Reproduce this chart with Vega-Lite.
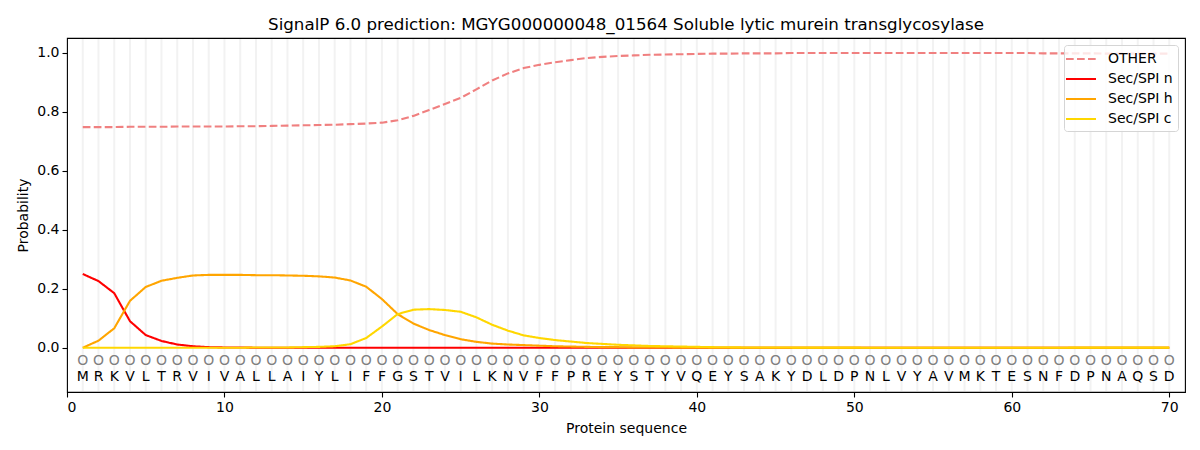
{
  "$schema": "https://vega.github.io/schema/vega-lite/v6.json",
  "width": 1118,
  "height": 354,
  "autosize": "none",
  "padding": {"left": 67, "top": 38, "right": 15, "bottom": 58},
  "background": "white",
  "title": {
    "text": "SignalP 6.0 prediction: MGYG000000048_01564 Soluble lytic murein transglycosylase",
    "font": "DejaVu Sans",
    "fontSize": 16.7,
    "fontWeight": "normal",
    "color": "black",
    "anchor": "middle",
    "offset": 4
  },
  "data": {
    "values": [
      {"pos": 1, "aa": "M", "OTHER": 0.748, "Sec/SPI n": 0.250, "Sec/SPI h": 0.000, "Sec/SPI c": 0.000},
      {"pos": 2, "aa": "R", "OTHER": 0.748, "Sec/SPI n": 0.226, "Sec/SPI h": 0.024, "Sec/SPI c": 0.000},
      {"pos": 3, "aa": "K", "OTHER": 0.748, "Sec/SPI n": 0.185, "Sec/SPI h": 0.066, "Sec/SPI c": 0.000},
      {"pos": 4, "aa": "V", "OTHER": 0.749, "Sec/SPI n": 0.090, "Sec/SPI h": 0.159, "Sec/SPI c": 0.000},
      {"pos": 5, "aa": "L", "OTHER": 0.749, "Sec/SPI n": 0.043, "Sec/SPI h": 0.206, "Sec/SPI c": 0.000},
      {"pos": 6, "aa": "T", "OTHER": 0.749, "Sec/SPI n": 0.023, "Sec/SPI h": 0.227, "Sec/SPI c": 0.000},
      {"pos": 7, "aa": "R", "OTHER": 0.750, "Sec/SPI n": 0.011, "Sec/SPI h": 0.237, "Sec/SPI c": 0.000},
      {"pos": 8, "aa": "V", "OTHER": 0.750, "Sec/SPI n": 0.005, "Sec/SPI h": 0.245, "Sec/SPI c": 0.000},
      {"pos": 9, "aa": "I", "OTHER": 0.750, "Sec/SPI n": 0.002, "Sec/SPI h": 0.247, "Sec/SPI c": 0.000},
      {"pos": 10, "aa": "V", "OTHER": 0.750, "Sec/SPI n": 0.001, "Sec/SPI h": 0.247, "Sec/SPI c": 0.000},
      {"pos": 11, "aa": "A", "OTHER": 0.751, "Sec/SPI n": 0.001, "Sec/SPI h": 0.247, "Sec/SPI c": 0.000},
      {"pos": 12, "aa": "L", "OTHER": 0.751, "Sec/SPI n": 0.000, "Sec/SPI h": 0.246, "Sec/SPI c": 0.001},
      {"pos": 13, "aa": "L", "OTHER": 0.752, "Sec/SPI n": 0.000, "Sec/SPI h": 0.246, "Sec/SPI c": 0.001},
      {"pos": 14, "aa": "A", "OTHER": 0.753, "Sec/SPI n": 0.000, "Sec/SPI h": 0.245, "Sec/SPI c": 0.001},
      {"pos": 15, "aa": "I", "OTHER": 0.754, "Sec/SPI n": 0.000, "Sec/SPI h": 0.244, "Sec/SPI c": 0.002},
      {"pos": 16, "aa": "Y", "OTHER": 0.755, "Sec/SPI n": 0.000, "Sec/SPI h": 0.242, "Sec/SPI c": 0.003},
      {"pos": 17, "aa": "L", "OTHER": 0.756, "Sec/SPI n": 0.000, "Sec/SPI h": 0.238, "Sec/SPI c": 0.005},
      {"pos": 18, "aa": "I", "OTHER": 0.758, "Sec/SPI n": 0.000, "Sec/SPI h": 0.228, "Sec/SPI c": 0.012},
      {"pos": 19, "aa": "F", "OTHER": 0.760, "Sec/SPI n": 0.000, "Sec/SPI h": 0.207, "Sec/SPI c": 0.033},
      {"pos": 20, "aa": "F", "OTHER": 0.763, "Sec/SPI n": 0.000, "Sec/SPI h": 0.165, "Sec/SPI c": 0.072},
      {"pos": 21, "aa": "G", "OTHER": 0.771, "Sec/SPI n": 0.000, "Sec/SPI h": 0.114, "Sec/SPI c": 0.114},
      {"pos": 22, "aa": "S", "OTHER": 0.786, "Sec/SPI n": 0.000, "Sec/SPI h": 0.082, "Sec/SPI c": 0.129},
      {"pos": 23, "aa": "T", "OTHER": 0.806, "Sec/SPI n": 0.000, "Sec/SPI h": 0.060, "Sec/SPI c": 0.131},
      {"pos": 24, "aa": "V", "OTHER": 0.826, "Sec/SPI n": 0.000, "Sec/SPI h": 0.043, "Sec/SPI c": 0.128},
      {"pos": 25, "aa": "I", "OTHER": 0.847, "Sec/SPI n": 0.000, "Sec/SPI h": 0.029, "Sec/SPI c": 0.122},
      {"pos": 26, "aa": "L", "OTHER": 0.876, "Sec/SPI n": 0.000, "Sec/SPI h": 0.020, "Sec/SPI c": 0.103},
      {"pos": 27, "aa": "K", "OTHER": 0.906, "Sec/SPI n": 0.000, "Sec/SPI h": 0.014, "Sec/SPI c": 0.078},
      {"pos": 28, "aa": "N", "OTHER": 0.930, "Sec/SPI n": 0.000, "Sec/SPI h": 0.011, "Sec/SPI c": 0.058},
      {"pos": 29, "aa": "V", "OTHER": 0.948, "Sec/SPI n": 0.000, "Sec/SPI h": 0.009, "Sec/SPI c": 0.042},
      {"pos": 30, "aa": "F", "OTHER": 0.959, "Sec/SPI n": 0.000, "Sec/SPI h": 0.007, "Sec/SPI c": 0.033},
      {"pos": 31, "aa": "F", "OTHER": 0.968, "Sec/SPI n": 0.000, "Sec/SPI h": 0.005, "Sec/SPI c": 0.026},
      {"pos": 32, "aa": "P", "OTHER": 0.975, "Sec/SPI n": 0.000, "Sec/SPI h": 0.004, "Sec/SPI c": 0.021},
      {"pos": 33, "aa": "R", "OTHER": 0.982, "Sec/SPI n": 0.000, "Sec/SPI h": 0.003, "Sec/SPI c": 0.016},
      {"pos": 34, "aa": "E", "OTHER": 0.986, "Sec/SPI n": 0.000, "Sec/SPI h": 0.002, "Sec/SPI c": 0.013},
      {"pos": 35, "aa": "Y", "OTHER": 0.989, "Sec/SPI n": 0.000, "Sec/SPI h": 0.002, "Sec/SPI c": 0.010},
      {"pos": 36, "aa": "S", "OTHER": 0.991, "Sec/SPI n": 0.000, "Sec/SPI h": 0.001, "Sec/SPI c": 0.008},
      {"pos": 37, "aa": "T", "OTHER": 0.993, "Sec/SPI n": 0.000, "Sec/SPI h": 0.001, "Sec/SPI c": 0.006},
      {"pos": 38, "aa": "Y", "OTHER": 0.994, "Sec/SPI n": 0.000, "Sec/SPI h": 0.001, "Sec/SPI c": 0.005},
      {"pos": 39, "aa": "V", "OTHER": 0.995, "Sec/SPI n": 0.000, "Sec/SPI h": 0.000, "Sec/SPI c": 0.004},
      {"pos": 40, "aa": "Q", "OTHER": 0.996, "Sec/SPI n": 0.000, "Sec/SPI h": 0.000, "Sec/SPI c": 0.003},
      {"pos": 41, "aa": "E", "OTHER": 0.997, "Sec/SPI n": 0.000, "Sec/SPI h": 0.000, "Sec/SPI c": 0.002},
      {"pos": 42, "aa": "Y", "OTHER": 0.997, "Sec/SPI n": 0.000, "Sec/SPI h": 0.000, "Sec/SPI c": 0.0015},
      {"pos": 43, "aa": "S", "OTHER": 0.998, "Sec/SPI n": 0.000, "Sec/SPI h": 0.000, "Sec/SPI c": 0.001},
      {"pos": 44, "aa": "A", "OTHER": 0.998, "Sec/SPI n": 0.000, "Sec/SPI h": 0.000, "Sec/SPI c": 0.001},
      {"pos": 45, "aa": "K", "OTHER": 0.998, "Sec/SPI n": 0.000, "Sec/SPI h": 0.000, "Sec/SPI c": 0.0008},
      {"pos": 46, "aa": "Y", "OTHER": 0.999, "Sec/SPI n": 0.000, "Sec/SPI h": 0.000, "Sec/SPI c": 0.0006},
      {"pos": 47, "aa": "D", "OTHER": 0.999, "Sec/SPI n": 0.000, "Sec/SPI h": 0.000, "Sec/SPI c": 0.0005},
      {"pos": 48, "aa": "L", "OTHER": 0.999, "Sec/SPI n": 0.000, "Sec/SPI h": 0.000, "Sec/SPI c": 0.0004},
      {"pos": 49, "aa": "D", "OTHER": 0.999, "Sec/SPI n": 0.000, "Sec/SPI h": 0.000, "Sec/SPI c": 0.0003},
      {"pos": 50, "aa": "P", "OTHER": 0.999, "Sec/SPI n": 0.000, "Sec/SPI h": 0.000, "Sec/SPI c": 0.0003},
      {"pos": 51, "aa": "N", "OTHER": 0.999, "Sec/SPI n": 0.000, "Sec/SPI h": 0.000, "Sec/SPI c": 0.0002},
      {"pos": 52, "aa": "L", "OTHER": 0.999, "Sec/SPI n": 0.000, "Sec/SPI h": 0.000, "Sec/SPI c": 0.0002},
      {"pos": 53, "aa": "V", "OTHER": 0.999, "Sec/SPI n": 0.000, "Sec/SPI h": 0.000, "Sec/SPI c": 0.0002},
      {"pos": 54, "aa": "Y", "OTHER": 0.999, "Sec/SPI n": 0.000, "Sec/SPI h": 0.000, "Sec/SPI c": 0.0002},
      {"pos": 55, "aa": "A", "OTHER": 0.999, "Sec/SPI n": 0.000, "Sec/SPI h": 0.000, "Sec/SPI c": 0.0002},
      {"pos": 56, "aa": "V", "OTHER": 0.999, "Sec/SPI n": 0.000, "Sec/SPI h": 0.000, "Sec/SPI c": 0.0002},
      {"pos": 57, "aa": "M", "OTHER": 0.999, "Sec/SPI n": 0.000, "Sec/SPI h": 0.000, "Sec/SPI c": 0.0002},
      {"pos": 58, "aa": "K", "OTHER": 0.999, "Sec/SPI n": 0.000, "Sec/SPI h": 0.000, "Sec/SPI c": 0.0002},
      {"pos": 59, "aa": "T", "OTHER": 0.999, "Sec/SPI n": 0.000, "Sec/SPI h": 0.000, "Sec/SPI c": 0.0002},
      {"pos": 60, "aa": "E", "OTHER": 0.999, "Sec/SPI n": 0.000, "Sec/SPI h": 0.000, "Sec/SPI c": 0.0002},
      {"pos": 61, "aa": "S", "OTHER": 0.999, "Sec/SPI n": 0.000, "Sec/SPI h": 0.000, "Sec/SPI c": 0.0002},
      {"pos": 62, "aa": "N", "OTHER": 0.998, "Sec/SPI n": 0.000, "Sec/SPI h": 0.000, "Sec/SPI c": 0.0002},
      {"pos": 63, "aa": "F", "OTHER": 0.998, "Sec/SPI n": 0.000, "Sec/SPI h": 0.000, "Sec/SPI c": 0.0002},
      {"pos": 64, "aa": "D", "OTHER": 0.998, "Sec/SPI n": 0.000, "Sec/SPI h": 0.000, "Sec/SPI c": 0.0003},
      {"pos": 65, "aa": "P", "OTHER": 0.998, "Sec/SPI n": 0.000, "Sec/SPI h": 0.000, "Sec/SPI c": 0.0003},
      {"pos": 66, "aa": "N", "OTHER": 0.997, "Sec/SPI n": 0.000, "Sec/SPI h": 0.000, "Sec/SPI c": 0.0003},
      {"pos": 67, "aa": "A", "OTHER": 0.997, "Sec/SPI n": 0.000, "Sec/SPI h": 0.000, "Sec/SPI c": 0.0003},
      {"pos": 68, "aa": "Q", "OTHER": 0.997, "Sec/SPI n": 0.000, "Sec/SPI h": 0.000, "Sec/SPI c": 0.0003},
      {"pos": 69, "aa": "S", "OTHER": 0.997, "Sec/SPI n": 0.000, "Sec/SPI h": 0.000, "Sec/SPI c": 0.0003},
      {"pos": 70, "aa": "D", "OTHER": 0.997, "Sec/SPI n": 0.000, "Sec/SPI h": 0.000, "Sec/SPI c": 0.0003}
    ]
  },
  "layer": [
    {
      "mark": {"type": "rule", "color": "#f2f2f2", "strokeWidth": 2},
      "encoding": {
        "x": {
          "field": "pos",
          "type": "quantitative",
          "scale": {"domain": [0, 71], "nice": false, "zero": false},
          "axis": {
            "title": "Protein sequence",
            "values": [0, 10, 20, 30, 40, 50, 60, 70],
            "format": "d",
            "labelPadding": 3,
            "titlePadding": 7
          }
        },
        "y": {"datum": -0.147},
        "y2": {"datum": 1.047}
      }
    },
    {
      "transform": [
        {"fold": ["OTHER", "Sec/SPI n", "Sec/SPI h", "Sec/SPI c"], "as": ["series", "p"]}
      ],
      "mark": {"type": "line", "strokeWidth": 2.1},
      "encoding": {
        "x": {"field": "pos", "type": "quantitative"},
        "y": {
          "field": "p",
          "type": "quantitative",
          "scale": {"domain": [-0.15, 1.05], "nice": false, "zero": false},
          "axis": {
            "title": "Probability",
            "values": [0, 0.2, 0.4, 0.6, 0.8, 1.0],
            "format": ".1f",
            "labelPadding": 3,
            "titlePadding": 6
          }
        },
        "color": {
          "field": "series",
          "type": "nominal",
          "scale": {
            "domain": ["OTHER", "Sec/SPI n", "Sec/SPI h", "Sec/SPI c"],
            "range": ["#f08080", "#ff0000", "#ffa500", "#ffd700"]
          },
          "legend": {"title": null}
        },
        "strokeDash": {
          "field": "series",
          "type": "nominal",
          "scale": {
            "domain": ["OTHER", "Sec/SPI n", "Sec/SPI h", "Sec/SPI c"],
            "range": [[7.7, 3.3], [1, 0], [1, 0], [1, 0]]
          },
          "legend": {"title": null}
        }
      }
    },
    {
      "mark": {"type": "text", "font": "DejaVu Sans", "fontSize": 14, "color": "#808080"},
      "encoding": {
        "x": {"field": "pos", "type": "quantitative"},
        "y": {"datum": -0.045},
        "text": {"value": "O"}
      }
    },
    {
      "mark": {"type": "text", "font": "DejaVu Sans", "fontSize": 14, "color": "black"},
      "encoding": {
        "x": {"field": "pos", "type": "quantitative"},
        "y": {"datum": -0.1},
        "text": {"field": "aa"}
      }
    }
  ],
  "config": {
    "view": {"stroke": "black", "strokeWidth": 1.1},
    "font": "DejaVu Sans",
    "axis": {
      "domain": false,
      "grid": false,
      "ticks": true,
      "tickColor": "black",
      "tickSize": 5,
      "tickWidth": 1.1,
      "labelFont": "DejaVu Sans",
      "labelFontSize": 14,
      "labelColor": "black",
      "titleFont": "DejaVu Sans",
      "titleFontSize": 14,
      "titleFontWeight": "normal",
      "titleColor": "black"
    },
    "legend": {
      "orient": "top-right",
      "offset": 7,
      "fillColor": "rgba(255,255,255,0.8)",
      "strokeColor": "#d5d5d5",
      "cornerRadius": 3,
      "padding": 5,
      "symbolType": "M-2,0H2",
      "symbolSize": 225,
      "symbolOffset": 3,
      "symbolStrokeWidth": 2.1,
      "labelFont": "DejaVu Sans",
      "labelFontSize": 14,
      "labelColor": "black",
      "labelOffset": 18,
      "rowPadding": 4
    }
  }
}
